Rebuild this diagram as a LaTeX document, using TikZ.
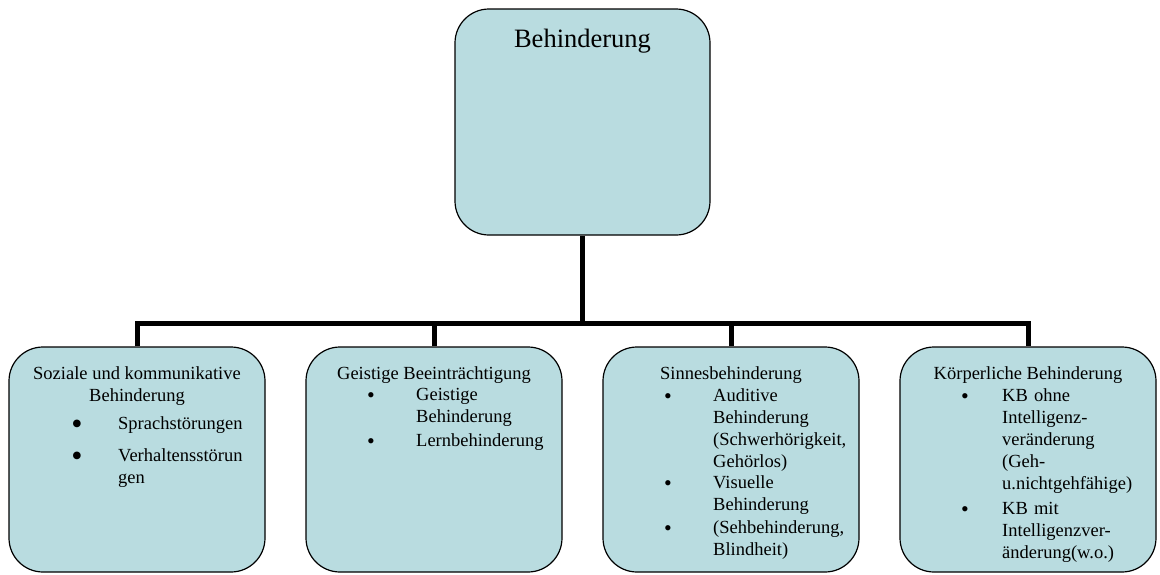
\documentclass[tikz,border=0pt]{standalone}
\usepackage{fontspec}
\setmainfont{Liberation Serif}
\usepackage{xcolor}
\definecolor{boxfill}{RGB}{185,220,224}
\tikzset{
  catbox/.style={draw=black,line width=1.2pt,fill=boxfill,rounded corners=34pt,
    minimum width=256pt,minimum height=225pt,inner sep=0pt},
  conn/.style={line width=5pt},
  boxhead/.style={anchor=base,inner sep=0pt,align=center,font=\fontsize{18.5}{22}\selectfont},
  itemtext/.style={anchor=base west,inner sep=0pt,text width=145pt,align=left,
    font=\fontsize{18.5}{22}\selectfont},
  dot/.style={inner sep=0pt,font=\fontsize{22}{22}\selectfont},
  bigdot/.style={inner sep=0pt,font=\fontsize{32}{32}\selectfont}
}
\begin{document}
\begin{tikzpicture}[x=1pt,y=-1pt]
  \useasboundingbox (0,0) rectangle (1160,574);
  \node[catbox,minimum width=255pt,minimum height=226pt] (beh) at (582.5,122) {};
  \node[anchor=base,inner sep=0pt,font=\fontsize{26.5}{30}\selectfont] (behtitle) at (582.5,47) {Behinderung};
  \foreach \n/\x in {soz/137,geist/434,sinn/731,koerp/1028}
    \node[catbox] (\n) at (\x,459.5) {};
  % connectors
  \draw[conn] (beh.south) -- ++(0,88) coordinate (hub);
  \draw[conn] (soz.north) |- (hub) -| (koerp.north);
  \draw[conn] (geist.north) -- (geist.north |- hub);
  \draw[conn] (sinn.north) -- (sinn.north |- hub);
  % box heads
  \node[boxhead] (sozhead) at (137,401) {Soziale und kommunikative\\Behinderung};
  \node[boxhead] (geisthead) at (434,379) {Geistige Beeinträchtigung};
  \node[boxhead] (sinnhead) at (731,379) {Sinnesbehinderung};
  \node[boxhead] (koerphead) at (1028,379) {Körperliche Behinderung};
  % items
  \node[bigdot] (sozd1) at (77,427) {\textbullet};
  \node[itemtext] (sozi1) at (118,429) {Sprachstörungen};
  \node[bigdot] (sozd2) at (77,459) {\textbullet};
  \node[itemtext] (sozi2) at (118,461) {Verhaltensstörun\\gen};
  \node[dot] (geistd1) at (371,398) {\textbullet};
  \node[itemtext] (geisti1) at (416,400) {Geistige\\Behinderung};
  \node[dot] (geistd2) at (371,444) {\textbullet};
  \node[itemtext] (geisti2) at (416,446) {Lernbehinderung};
  \node[dot] (sinnd1) at (668,399) {\textbullet};
  \node[itemtext] (sinni1) at (713,401) {Auditive\\Behinderung\\(Schwerhörigkeit,\\Gehörlos)};
  \node[dot] (sinnd2) at (668,486) {\textbullet};
  \node[itemtext] (sinni2) at (713,488) {Visuelle\\Behinderung};
  \node[dot] (sinnd3) at (668,531) {\textbullet};
  \node[itemtext] (sinni3) at (713,533) {(Sehbehinderung,\\Blindheit)};
  \node[dot] (koerpd1) at (965,399) {\textbullet};
  \node[itemtext] (koerpi1) at (1002,401) {KB ohne\\Intelligenz-\\veränderung\\(Geh-\\u.nichtgehfähige)};
  \node[dot] (koerpd2) at (965,512) {\textbullet};
  \node[itemtext] (koerpi2) at (1002,514) {KB mit\\Intelligenzver-\\änderung(w.o.)};
\end{tikzpicture}
\end{document}
